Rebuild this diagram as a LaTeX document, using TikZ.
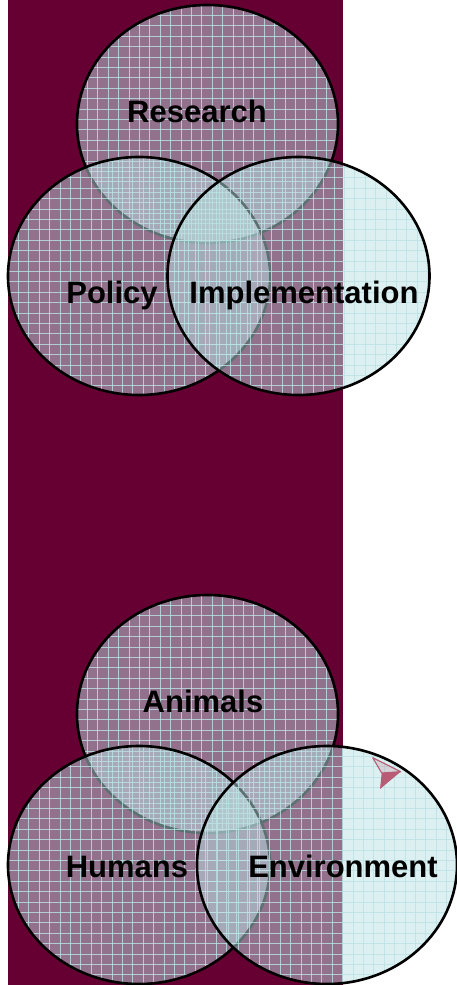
\documentclass[tikz,border=0pt]{standalone}
\usepackage{fontspec}
\setmainfont{Liberation Sans}
\begin{document}
\definecolor{maroonbg}{RGB}{102,0,51}
\definecolor{ringcyan}{RGB}{188,226,228}
\definecolor{arrowpink}{RGB}{184,92,117}
\begin{tikzpicture}[x=1pt,y=-1pt,
  ringfill/.style={fill=ringcyan,fill opacity=0.5},
  ringgrid/.style={draw=ringcyan,draw opacity=0.8,line width=0.8pt},
  ringline/.style={draw=black,line width=2.6pt},
  label/.style={font=\fontsize{31}{31}\selectfont\bfseries,text=black,anchor=base,inner sep=0pt}]
% page and the maroon band
\useasboundingbox (0,0) rectangle (457,985);
\fill[white] (0,0) rectangle (457,985);
\fill[maroonbg] (8,0) rectangle (343,985);
% one translucent, gridded ring: cx, cy, rx, ry
\newcommand\vennring[4]{%
  \begin{scope}
    \fill[ringfill] (#1,#2) ellipse [x radius=#3, y radius=#4];
    \clip (#1,#2) ellipse [x radius=#3, y radius=#4];
    \foreach \k in {0,...,26} {
      \draw[ringgrid] ({#1-#3+\k*10.4},{#2-#4}) -- ++(0,{2*#4});
      \draw[ringgrid] ({#1-#3},{#2-#4+\k*10.4}) -- ++({2*#3},0);
    }
  \end{scope}
  \draw[ringline] (#1,#2) ellipse [x radius=#3, y radius=#4];
}
% upper diagram
\vennring{207.5}{124}{130.5}{119}
\vennring{139}{276}{131}{119}
\vennring{298.5}{276}{131}{119}
% lower diagram
\vennring{207.5}{714}{130.5}{119}
\vennring{139}{865}{131}{119}
\vennring{327}{865}{130}{119}
% small arrowhead mark
\coordinate (aTop) at (372.7,757.7);
\coordinate (aTip) at (400.7,771.7);
\coordinate (aNotch) at (381.7,773);
\coordinate (aBot) at (380,789);
\filldraw[draw=arrowpink,fill=arrowpink,fill opacity=0.2,line width=1.1pt,line join=round]
  (aTop) -- (aTip) -- (aNotch) -- cycle;
\fill[arrowpink] (aNotch) -- (aTip) -- (aBot) -- cycle;
% labels
\node[label] (research) at (197,122) {Research};
\node[label] (policy) at (112,303) {Policy};
\node[label] (implementation) at (304,303) {Implementation};
\node[label] (animals) at (203,712) {Animals};
\node[label] (humans) at (127,877) {Humans};
\node[label] (environment) at (343,877) {Environment};
\end{tikzpicture}
\end{document}
